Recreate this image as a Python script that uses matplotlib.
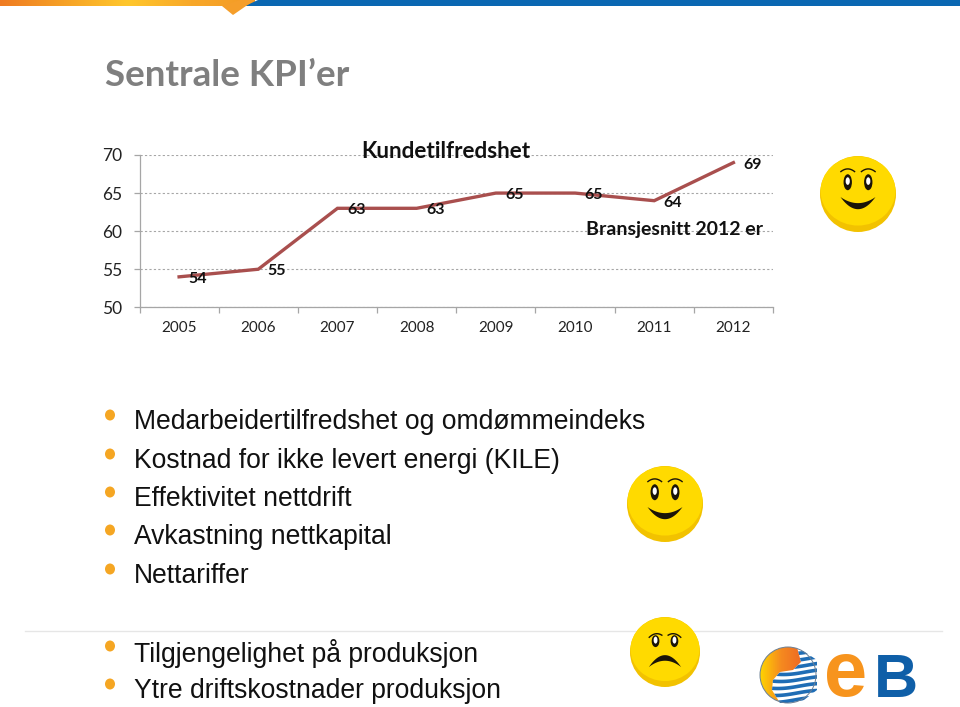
import numpy as np
import matplotlib.pyplot as plt
from matplotlib.colors import LinearSegmentedColormap
from matplotlib.patches import Circle, Ellipse, Polygon

aar = ["2005", "2006", "2007", "2008", "2009", "2010", "2011", "2012"]
kundetilfredshet = [54, 55, 63, 63, 65, 65, 64, 69]
y_ticks = [50, 55, 60, 65, 70]

tittel = "Sentrale KPI\u2019er"
punkter_topp = [
    "Medarbeidertilfredshet og omdømmeindeks",
    "Kostnad for ikke levert energi (KILE)",
    "Effektivitet nettdrift",
    "Avkastning nettkapital",
    "Nettariffer",
]
punkter_bunn = [
    "Tilgjengelighet på produksjon",
    "Ytre driftskostnader produksjon",
]
y_topp = [422, 461, 499, 537, 576]
y_bunn = [653, 691]

B, H = 960, 707

fig = plt.figure(figsize=(9.6, 7.07), dpi=100)

# bakgrunn i pikselkoordinater
bg = fig.add_axes([0, 0, 1, 1])
bg.set_xlim(0, B)
bg.set_ylim(H, 0)
bg.axis("off")

# toppstripe
stripe = LinearSegmentedColormap.from_list(
    "stripe", ["#EF7B22", "#F6A126", "#FFC72C", "#F8A829", "#F39A26"]
)
bg.imshow(np.linspace(0, 1, 256).reshape(1, -1), cmap=stripe, extent=(0, 255, 6, 0), aspect="auto")
bg.add_patch(Polygon([[245, 6], [258, 0], [960, 0], [960, 6]], color="#0A67B2", lw=0))
bg.add_patch(Polygon([[222, 6], [246, 6], [255, 0], [240, 0]], color="#F59E2A", lw=0))
bg.add_patch(Polygon([[222, 6], [246, 6], [233, 15]], color="#F59E2A", lw=0))
bg.set_xlim(0, B)
bg.set_ylim(H, 0)

bg.text(105, 76, tittel, fontsize=26.5, fontweight="bold", family="Lato", color="#7F7F7F", va="center")

# skillelinje
bg.plot([25, 942], [631, 631], color="#E6E6E6", lw=1)

# punktliste
for tekst, y in zip(punkter_topp + punkter_bunn, y_topp + y_bunn):
    bg.add_patch(Ellipse((110, y - 7), 10, 11, color="#F5A623", lw=0))
    bg.text(134, y, tekst, fontsize=19.12, family="Liberation Sans", color="#111111", va="center")


def smilefjes(cx, cy, r, glad=True):
    bg.add_patch(Circle((cx, cy), r, color="#F2C200", lw=0, zorder=3))
    bg.add_patch(Ellipse((cx, cy - 0.08 * r), 1.97 * r, 1.82 * r, color="#FFDA00", lw=0, zorder=3))
    for s in (-1, 1):
        ox = cx + s * 0.27 * r
        oy = cy - 0.31 * r
        hoyde = 0.42 * r if glad else 0.34 * r
        bg.add_patch(Ellipse((ox, oy), 0.22 * r, hoyde, color="#1A1408", lw=0, zorder=4))
        bg.add_patch(Ellipse((ox, oy - 0.03 * r), 0.11 * r, 0.2 * r, color="white", lw=0, zorder=5))
        t = np.linspace(-1, 1, 20)
        by = cy - (0.66 if glad else 0.52) * r + 0.07 * r * t ** 2
        if not glad:
            by = by + s * 0.03 * r * t
        bg.plot(ox + t * 0.18 * r, by, color="#1A1408", lw=1.0, zorder=4)
    t = np.linspace(-1, 1, 40)
    mx = cx + t * 0.46 * r
    if glad:
        ytre = cy + 0.08 * r + 0.32 * r * (1 - t ** 2)
        indre = cy + 0.08 * r + 0.16 * r * (1 - t ** 2)
    else:
        ytre = cy + 0.43 * r - 0.34 * r * (1 - t ** 2)
        indre = cy + 0.43 * r - 0.18 * r * (1 - t ** 2)
    bg.add_patch(
        Polygon(np.column_stack([np.r_[mx, mx[::-1]], np.r_[ytre, indre[::-1]]]), color="#1A1408", lw=0, zorder=4)
    )


smilefjes(858, 194, 38)
smilefjes(665, 504, 38)
smilefjes(665, 652, 35, glad=False)

# logo
sirkel = Circle((788, 675), 28, transform=bg.transData, fc="none", ec="none")
bg.add_patch(sirkel)
logo_farge = LinearSegmentedColormap.from_list("logo", ["#FFD400", "#F58A1F", "#EE6A24"])
im = bg.imshow(np.linspace(0, 1, 64).reshape(1, -1), cmap=logo_farge, extent=(760, 802, 703, 647), aspect="auto", zorder=2)
im.set_clip_path(sirkel)
bg.set_xlim(0, B)
bg.set_ylim(H, 0)
hvit = Polygon(
    [[797, 647], [817, 660], [817, 690], [800, 703], [780, 703], [772, 690], [773, 680], [780, 672], [793, 670], [801, 662]],
    color="white",
    lw=0,
    zorder=3,
)
bg.add_patch(hvit)
hvit.set_clip_path(sirkel)
for i, yy in enumerate([651, 658, 665, 672, 679, 686, 693, 700]):
    t = np.linspace(770, 818, 30)
    linje, = bg.plot(t, yy + 2.5 * np.sin((t - 770) / 14 + i * 0.2), color="#1F6DB5", lw=2.6, zorder=4)
    linje.set_clip_path(hvit)
bg.add_patch(Circle((788, 675), 28, fc="none", ec="#6A7F95", lw=0.7, zorder=5))
bg.text(846, 696, "e", fontsize=56, fontweight="bold", family="Liberation Sans", color="#F7941D", ha="center", va="baseline")
bg.text(896, 697, "B", fontsize=44, fontweight="bold", family="Liberation Sans", color="#0F5FA8", ha="center", va="baseline")

# diagrammet
venstre, hoyre, topp, bunn = 139.5, 773, 155, 307.3
ax = fig.add_axes([venstre / B, 1 - bunn / H, (hoyre - venstre) / B, (bunn - topp) / H])
ax.patch.set_alpha(0)

x = np.arange(len(aar))
ax.plot(x, kundetilfredshet, color="#A94F4E", lw=2.4, solid_joinstyle="miter")

for xi, v in zip(x, kundetilfredshet):
    ax.annotate(str(v), (xi, v), xytext=(13.5, -1.5), textcoords="offset points", ha="center", va="center",
                fontsize=11.5, fontweight="bold", family="Lato", color="#111111")

ax.set_xlim(-0.5, len(aar) - 0.5)
ax.set_ylim(50, 70)
ax.set_yticks(y_ticks)
ax.set_xticks(np.arange(-0.5, len(aar)))
ax.set_xticklabels([])
ax.set_xticks(x, minor=True)
ax.set_xticklabels(aar, minor=True, fontsize=11, family="Lato", color="#222222")
ax.tick_params(axis="x", which="minor", length=0, pad=10)
ax.tick_params(axis="x", which="major", length=4, color="#A6A6A6", width=0.9)
ax.tick_params(axis="y", length=4.5, color="#A6A6A6", width=0.9, pad=8.2, labelsize=12.5, labelcolor="#222222")
for lab in ax.get_yticklabels():
    lab.set_family("Lato")

ax.grid(axis="y", color="#A6A6A6", linestyle=(0, (2, 2)), lw=0.8)
ax.grid(axis="x", visible=False)
ax.set_axisbelow(True)
for s in ("top", "right"):
    ax.spines[s].set_visible(False)
for s in ("left", "bottom"):
    ax.spines[s].set_color("#A6A6A6")
    ax.spines[s].set_linewidth(0.9)

fig.text(446 / B, 1 - 152 / H, "Kundetilfredshet", fontsize=16.2, fontweight="bold", family="Lato",
         color="#111111", ha="center", va="center")
fig.text(675 / B, 1 - 229 / H, "Bransjesnitt 2012 er", fontsize=14, fontweight="bold", family="Lato",
         color="#111111", ha="center", va="center")

fig.savefig("out.png", dpi=100)
